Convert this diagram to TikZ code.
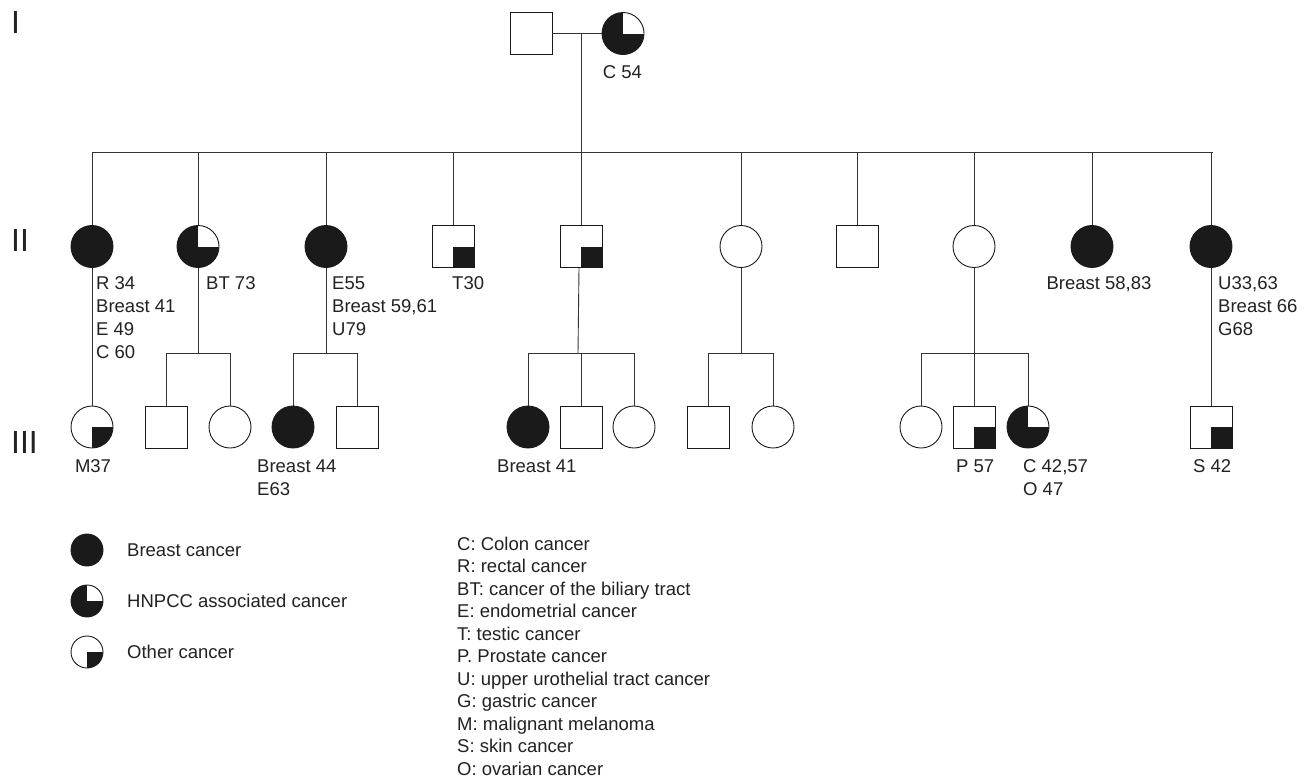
\documentclass[tikz,border=0pt]{standalone}
\usepackage{fontspec}
\setmainfont{Liberation Sans}
\definecolor{ink}{HTML}{1A1A1A}
\definecolor{txt}{HTML}{222222}
\definecolor{lncol}{HTML}{333333}
\tikzset{
  per/.style={draw=ink, minimum size=42pt, inner sep=0pt, line width=0.9pt},
  male/.style={per, rectangle},
  fem/.style={per, circle},
  aff/.style={fill=ink},
  hnp/.style={path picture={\fill[ink] (path picture bounding box.south west) rectangle (path picture bounding box.north east);
      \fill[white] (path picture bounding box.center) rectangle (path picture bounding box.north east);}},
  oth/.style={path picture={\fill[ink] (path picture bounding box.center) rectangle (path picture bounding box.south east);}},
  lbl/.style={font=\fontsize{18.5}{23}\selectfont, text=txt, inner sep=0pt, align=left},
  gen/.style={font=\fontsize{32}{32}\selectfont, text=txt, inner sep=0pt},
  ln/.style={draw=lncol, line width=0.9pt}
}
\begin{document}
\begin{tikzpicture}[x=1pt,y=-1pt]
\useasboundingbox[fill=white] (0,0) rectangle (1309,777);

% generation numerals
\node[gen, anchor=west] (gI) at (11,22) {I};
\node[gen, anchor=west] (gII) at (11,240) {II};
\node[gen, anchor=west] (gIII) at (11,442) {III};

% generation I
\node[male] (I1) at (531,33.5) {};
\node[fem, hnp] (I2) at (623,33.5) {};
\node[lbl, anchor=north] (lI2) at (622.5,65.5) {C 54};

% generation II
\node[fem, aff] (II1) at (92,246.5) {};
\node[fem, hnp] (II2) at (198,246.5) {};
\node[fem, aff] (II3) at (326,246.5) {};
\node[male, oth] (II4) at (453,246.5) {};
\node[male, oth] (II5) at (581,246.5) {};
\node[fem] (II6) at (741,246.5) {};
\node[male] (II7) at (857,246.5) {};
\node[fem] (II8) at (974,246.5) {};
\node[fem, aff] (II9) at (1092,246.5) {};
\node[fem, aff] (II10) at (1211,246.5) {};

\node[lbl, anchor=north west] (lII1) at (96,276.5) {R 34\\Breast 41\\E 49\\C 60};
\node[lbl, anchor=north west] (lII2) at (206,276.5) {BT 73};
\node[lbl, anchor=north west] (lII3) at (332,276.5) {E55\\Breast 59,61\\U79};
\node[lbl, anchor=north west] (lII4) at (452,276.5) {T30};
\node[lbl, anchor=north] (lII9) at (1099,276.5) {Breast 58,83};
\node[lbl, anchor=north west] (lII10) at (1218,276.5) {U33,63\\Breast 66\\G68};

% generation III
\node[fem, oth] (III1) at (92,427) {};
\node[male] (III2) at (166,427) {};
\node[fem] (III3) at (230,427) {};
\node[fem, aff] (III4) at (293,427) {};
\node[male] (III5) at (357,427) {};
\node[fem, aff] (III6) at (528,427) {};
\node[male] (III7) at (581,427) {};
\node[fem] (III8) at (634,427) {};
\node[male] (III9) at (708,427) {};
\node[fem] (III10) at (773,427) {};
\node[fem] (III11) at (921,427) {};
\node[male, oth] (III12) at (974,427) {};
\node[fem, hnp] (III13) at (1028,427) {};
\node[male, oth] (III14) at (1211,427) {};

\node[lbl, anchor=north] (lIII1) at (93,459.5) {M37};
\node[lbl, anchor=north west] (lIII4) at (257,459.5) {Breast 44\\E63};
\node[lbl, anchor=north west] (lIII6) at (497,459.5) {Breast 41};
\node[lbl, anchor=north west] (lIII12) at (956,459.5) {P 57};
\node[lbl, anchor=north west] (lIII13) at (1023,459.5) {C 42,57\\O 47};
\node[lbl, anchor=north west] (lIII14) at (1193,459.5) {S 42};

% connectors: generation I
\coordinate (mar) at (581,33.5);
\coordinate (sibL) at (92,152);
\coordinate (sibR) at (1213,152);
\draw[ln] (I1.east) -- (I2.west);
\draw[ln] (mar) -- (mar |- sibL);
\draw[ln] (sibL) -- (sibR);
\foreach \n in {II1,II2,II3,II4,II5,II6,II7,II8,II9,II10}
  \draw[ln] (\n.north) -- (\n.north |- sibL);

% connectors: generation II to III
\draw[ln] (II1.south) -- (III1.north);
\draw[ln] (II10.south) -- (III14.north);
\coordinate (s2) at (198,353);
\draw[ln] (II2.south) -- (s2);
\draw[ln] (III2.north) -- (III2.north |- s2) -- (III3.north |- s2) -- (III3.north);
\coordinate (s3) at (326,353);
\draw[ln] (II3.south) -- (s3);
\draw[ln] (III4.north) -- (III4.north |- s3) -- (III5.north |- s3) -- (III5.north);
\coordinate (s5) at (578,353);
\draw[ln] ([xshift=-2pt]II5.south) -- (s5);
\draw[ln] (III6.north) -- (III6.north |- s5) -- (III8.north |- s5) -- (III8.north);
\draw[ln] (III7.north) -- (III7.north |- s5);
\coordinate (s6) at (741,353);
\draw[ln] (II6.south) -- (s6);
\draw[ln] (III9.north) -- (III9.north |- s6) -- (III10.north |- s6) -- (III10.north);
\coordinate (s8) at (974,353);
\draw[ln] (II8.south) -- (s8);
\draw[ln] (III11.north) -- (III11.north |- s8) -- (III13.north |- s8) -- (III13.north);
\draw[ln] (III12.north) -- (III12.north |- s8);

% legend symbols
\node[fem, aff, minimum size=32pt] (L1) at (87,550) {};
\node[fem, hnp, minimum size=32pt] (L2) at (87,601) {};
\node[fem, oth, minimum size=32pt] (L3) at (87,652) {};
\node[lbl, anchor=west] (tL1) at (127,550) {Breast cancer};
\node[lbl, anchor=west] (tL2) at (127,601) {HNPCC associated cancer};
\node[lbl, anchor=west] (tL3) at (127,652) {Other cancer};

% abbreviations
\node[lbl, anchor=north west, font=\fontsize{18.5}{22.5}\selectfont] (abbr) at (457,536.5) {C: Colon cancer\\R: rectal cancer\\BT: cancer of the biliary tract\\E: endometrial cancer\\T: testic cancer\\P. Prostate cancer\\U: upper urothelial tract cancer\\G: gastric cancer\\M: malignant melanoma\\S: skin cancer\\O: ovarian cancer};
\end{tikzpicture}
\end{document}
